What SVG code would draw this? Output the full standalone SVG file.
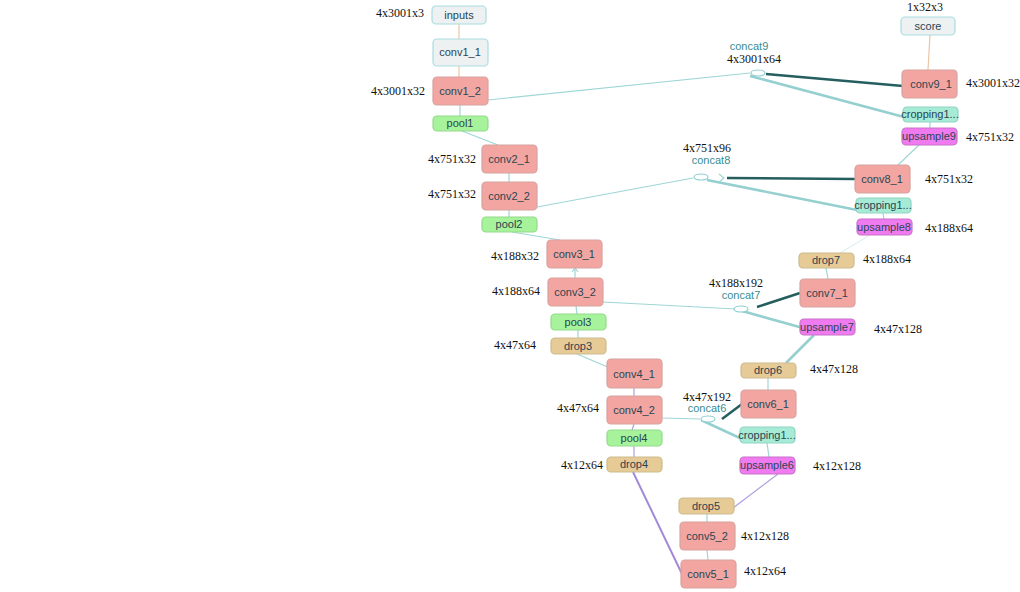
<svg xmlns="http://www.w3.org/2000/svg" width="1020" height="592" viewBox="0 0 1020 592">
<style>
.n rect{rx:4;ry:4;stroke-width:1.2}
.n text{font-family:"Liberation Sans",Arial,sans-serif;font-size:11px;fill:#2a4552;text-anchor:middle}
.conv rect{fill:#f3a6a1;stroke:#d6a2a0}
.gray rect{fill:#eef1f2;stroke:#a9dde1}
.pool rect{fill:#a7f39b;stroke:#93d98c}
.drop rect{fill:#e7cb96;stroke:#cbbb8e}
.crop rect{fill:#a6ebd6;stroke:#8fd3c1}
.up rect{fill:#f07bf0;stroke:#c873c8}
.sh{font-family:"Liberation Serif","Times New Roman",serif;font-size:12px;fill:#111}
.cl{font-family:"Liberation Sans",Arial,sans-serif;font-size:11px;fill:#3a8c92}
.e{fill:none;stroke:#9fd6d6;stroke-width:1.2}
.et{fill:none;stroke:#95cfd0;stroke-width:2.6}
.ed{fill:none;stroke:#245e5e;stroke-width:2.5}
.eo{fill:none;stroke:#e9c6a6;stroke-width:1.2}
.ep{fill:none;stroke:#a48ad6;stroke-width:2}
.ep1{fill:none;stroke:#b0a0dc;stroke-width:1.2}
.cc{fill:#fff;stroke:#8fcfd2;stroke-width:1.2}
</style>
<rect width="1020" height="592" fill="#fff"/>
<g id="connectors">
<line class="eo" x1="459" y1="24" x2="459" y2="39"/>
<line class="eo" x1="459" y1="66" x2="459" y2="77"/>
<line class="e" x1="460" y1="105" x2="460" y2="116"/>
<line class="e" x1="462" y1="131" x2="498" y2="145"/>
<line class="e" x1="509" y1="173" x2="509" y2="182"/>
<line class="e" x1="509" y1="210" x2="509" y2="217"/>
<line class="e" x1="512" y1="232" x2="560" y2="240"/>
<line class="e" x1="575" y1="268" x2="575" y2="278"/>
<polyline class="e" points="572,272 575,268 578,272"/>
<line class="e" x1="576" y1="306" x2="577" y2="314"/>
<line class="e" x1="578" y1="330" x2="578" y2="338"/>
<line class="e" x1="577" y1="354" x2="610" y2="368"/>
<line class="ep1" x1="634" y1="388" x2="634" y2="396"/>
<line class="ep1" x1="634" y1="424" x2="632" y2="430"/>
<line class="ep1" x1="634" y1="446" x2="634" y2="457"/>
<line class="ep" x1="633" y1="472" x2="682" y2="574"/>
<line class="e" x1="708" y1="560" x2="707" y2="550"/>
<line class="e" x1="707" y1="522" x2="707" y2="514"/>
<line class="ep1" x1="733" y1="508" x2="778" y2="474"/>
<line class="e" x1="769" y1="457" x2="767" y2="443"/>
<line class="e" x1="662" y1="418" x2="700" y2="419"/>
<line class="et" x1="742" y1="439" x2="701" y2="420"/>
<line class="ed" x1="722" y1="419" x2="742" y2="404"/>
<line class="e" x1="768" y1="378" x2="768" y2="390"/>
<line class="et" x1="786" y1="363" x2="814" y2="335"/>
<line class="e" x1="603" y1="302" x2="736" y2="309"/>
<line class="et" x1="803" y1="328" x2="735" y2="309"/>
<line class="ed" x1="757" y1="307" x2="800" y2="293"/>
<line class="e" x1="828" y1="279" x2="826" y2="268"/>
<line class="e" x1="840" y1="253" x2="870" y2="235" stroke-opacity="0.35"/>
<line class="e" x1="884" y1="219" x2="883" y2="213"/>
<line class="e" x1="537" y1="207" x2="693" y2="178"/>
<line class="et" x1="857" y1="210" x2="707" y2="180"/>
<polyline class="e" points="719,174 724,178 719,182" stroke-width="1.5"/>
<line class="ed" x1="727" y1="178" x2="855" y2="179"/>
<line class="e" x1="898" y1="165" x2="919" y2="145"/>
<line class="e" x1="930" y1="128" x2="930" y2="122"/>
<line class="e" x1="488" y1="100" x2="750" y2="73"/>
<line class="et" x1="904" y1="117" x2="750" y2="76"/>
<line class="ed" x1="766" y1="74" x2="903" y2="86"/>
<line class="eo" x1="928" y1="70" x2="930" y2="35"/>
</g>
<g id="concat9"><ellipse class="cc" cx="758" cy="73" rx="7" ry="3"/><text class="cl" x="749" y="50" text-anchor="middle">concat9</text><text class="sh" x="754" y="63" text-anchor="middle">4x3001x64</text></g>
<g id="concat8"><ellipse class="cc" cx="701" cy="177" rx="7" ry="3"/><text class="sh" x="707" y="152" text-anchor="middle">4x751x96</text><text class="cl" x="711" y="164" text-anchor="middle">concat8</text></g>
<g id="concat7"><ellipse class="cc" cx="741" cy="309" rx="7" ry="3"/><text class="sh" x="736" y="287" text-anchor="middle">4x188x192</text><text class="cl" x="741" y="299" text-anchor="middle">concat7</text></g>
<g id="concat6"><ellipse class="cc" cx="708" cy="419" rx="7" ry="3"/><text class="sh" x="707" y="401" text-anchor="middle">4x47x192</text><text class="cl" x="707" y="412" text-anchor="middle">concat6</text></g>

<g id="inputs" class="n gray"><rect x="432" y="6" width="54" height="18"/><text x="459" y="19">inputs</text></g>
<g id="conv1_1" class="n gray"><rect x="433" y="39" width="55" height="27"/><text x="460" y="56">conv1_1</text></g>
<g id="conv1_2" class="n conv"><rect x="433" y="77" width="55" height="28"/><text x="460" y="95">conv1_2</text></g>
<g id="pool1" class="n pool"><rect x="433" y="116" width="55" height="15"/><text x="460" y="127">pool1</text></g>
<g id="conv2_1" class="n conv"><rect x="482" y="145" width="55" height="28"/><text x="509" y="163">conv2_1</text></g>
<g id="conv2_2" class="n conv"><rect x="482" y="182" width="55" height="28"/><text x="509" y="200">conv2_2</text></g>
<g id="pool2" class="n pool"><rect x="482" y="217" width="55" height="15"/><text x="509" y="228">pool2</text></g>
<g id="conv3_1" class="n conv"><rect x="547" y="240" width="55" height="28"/><text x="574" y="258">conv3_1</text></g>
<g id="conv3_2" class="n conv"><rect x="548" y="278" width="55" height="28"/><text x="575" y="296">conv3_2</text></g>
<g id="pool3" class="n pool"><rect x="551" y="314" width="55" height="16"/><text x="578" y="326">pool3</text></g>
<g id="drop3" class="n drop"><rect x="551" y="338" width="55" height="16"/><text x="578" y="350">drop3</text></g>
<g id="conv4_1" class="n conv"><rect x="607" y="359" width="55" height="29"/><text x="634" y="378">conv4_1</text></g>
<g id="conv4_2" class="n conv"><rect x="607" y="396" width="55" height="28"/><text x="634" y="414">conv4_2</text></g>
<g id="pool4" class="n pool"><rect x="607" y="430" width="55" height="16"/><text x="634" y="442">pool4</text></g>
<g id="drop4" class="n drop"><rect x="607" y="457" width="55" height="15"/><text x="634" y="468">drop4</text></g>
<g id="drop5" class="n drop"><rect x="679" y="498" width="55" height="16"/><text x="706" y="510">drop5</text></g>
<g id="conv5_2" class="n conv"><rect x="680" y="522" width="55" height="28"/><text x="707" y="540">conv5_2</text></g>
<g id="conv5_1" class="n conv"><rect x="681" y="560" width="55" height="28"/><text x="708" y="578">conv5_1</text></g>
<g id="upsample6" class="n up"><rect x="740" y="457" width="55" height="17"/><text x="767" y="469">upsample6</text></g>
<g id="cropping6" class="n crop"><rect x="740" y="427" width="55" height="16"/><text x="767" y="439">cropping1...</text></g>
<g id="conv6_1" class="n conv"><rect x="741" y="390" width="55" height="28"/><text x="768" y="408">conv6_1</text></g>
<g id="drop6" class="n drop"><rect x="741" y="363" width="55" height="15"/><text x="768" y="374">drop6</text></g>
<g id="upsample7" class="n up"><rect x="800" y="319" width="55" height="16"/><text x="827" y="331">upsample7</text></g>
<g id="conv7_1" class="n conv"><rect x="800" y="279" width="55" height="28"/><text x="827" y="297">conv7_1</text></g>
<g id="drop7" class="n drop"><rect x="799" y="253" width="55" height="15"/><text x="826" y="264">drop7</text></g>
<g id="upsample8" class="n up"><rect x="857" y="219" width="55" height="16"/><text x="884" y="231">upsample8</text></g>
<g id="cropping8" class="n crop"><rect x="856" y="198" width="55" height="15"/><text x="883" y="209">cropping1...</text></g>
<g id="conv8_1" class="n conv"><rect x="855" y="165" width="55" height="28"/><text x="882" y="183">conv8_1</text></g>
<g id="upsample9" class="n up"><rect x="902" y="128" width="55" height="17"/><text x="929" y="140">upsample9</text></g>
<g id="cropping9" class="n crop"><rect x="903" y="107" width="55" height="15"/><text x="930" y="118">cropping1...</text></g>
<g id="conv9_1" class="n conv"><rect x="902" y="70" width="55" height="28"/><text x="931" y="88">conv9_1</text></g>
<g id="score" class="n gray"><rect x="901" y="17" width="54" height="18"/><text x="928" y="30">score</text></g>

<g id="shapes">
<text class="sh" x="424" y="17" text-anchor="end">4x3001x3</text>
<text class="sh" x="425" y="95" text-anchor="end">4x3001x32</text>
<text class="sh" x="476" y="163" text-anchor="end">4x751x32</text>
<text class="sh" x="476" y="198" text-anchor="end">4x751x32</text>
<text class="sh" x="539" y="260" text-anchor="end">4x188x32</text>
<text class="sh" x="540" y="295" text-anchor="end">4x188x64</text>
<text class="sh" x="536" y="349" text-anchor="end">4x47x64</text>
<text class="sh" x="599" y="412" text-anchor="end">4x47x64</text>
<text class="sh" x="603" y="469" text-anchor="end">4x12x64</text>
<text class="sh" x="741" y="540">4x12x128</text>
<text class="sh" x="744" y="575">4x12x64</text>
<text class="sh" x="813" y="470">4x12x128</text>
<text class="sh" x="810" y="373">4x47x128</text>
<text class="sh" x="874" y="333">4x47x128</text>
<text class="sh" x="863" y="263">4x188x64</text>
<text class="sh" x="925" y="232">4x188x64</text>
<text class="sh" x="925" y="183">4x751x32</text>
<text class="sh" x="966" y="141">4x751x32</text>
<text class="sh" x="966" y="87">4x3001x32</text>
<text class="sh" x="907" y="11">1x32x3</text>
</g>
</svg>
